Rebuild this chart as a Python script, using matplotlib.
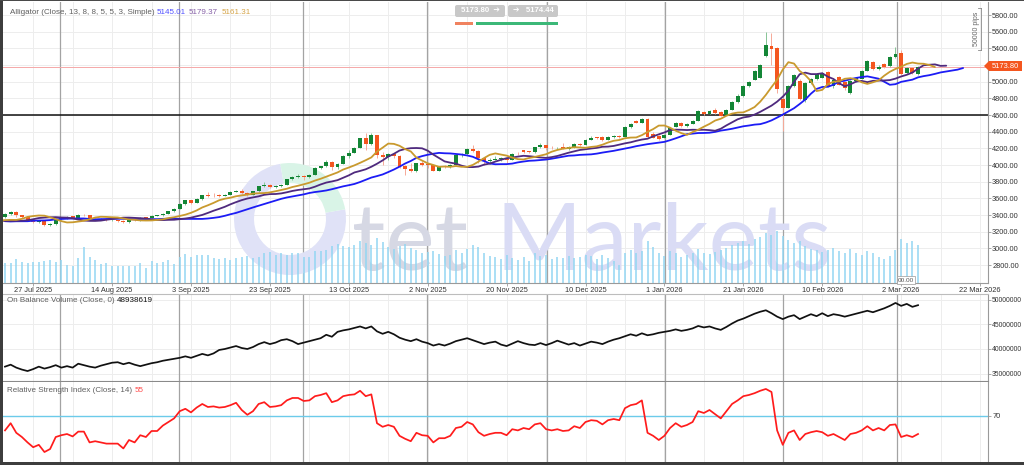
import numpy as np
import pandas as pd
import matplotlib
matplotlib.use("Agg")
import matplotlib.pyplot as plt
from matplotlib.patches import Wedge, FancyBboxPatch, Rectangle, Polygon
from matplotlib.lines import Line2D
import matplotlib.transforms as mtransforms

# ---------------- data ----------------
open_ = [
    3374, 3410, 3440, 3398, 3372, 3338, 3316, 3328, 3280, 3292,
    3350, 3362, 3385, 3368, 3400, 3396, 3352, 3348, 3356, 3336,
    3338, 3332, 3315, 3348, 3338, 3372, 3365, 3393, 3397, 3417,
    3447, 3477, 3535, 3578, 3546, 3590, 3636, 3642, 3638, 3634,
    3643, 3679, 3690, 3660, 3644, 3685, 3746, 3764, 3736, 3749,
    3760, 3833, 3858, 3866, 3856, 3886, 3961, 3985, 4040, 3976,
    4018, 4110, 4143, 4209, 4326, 4251, 4356, 4125, 4095, 4126,
    4113, 3982, 3951, 3930, 4025, 4010, 4000, 3932, 3980, 3977,
    4000, 4115, 4128, 4195, 4172, 4085, 4046, 4066, 4077, 4077,
    4065, 4135, 4175, 4160, 4155, 4218, 4240, 4206, 4200, 4210,
    4198, 4210, 4258, 4246, 4306, 4330, 4340, 4306, 4340, 4345,
    4340, 4462, 4533, 4510, 4557, 4370, 4354, 4330, 4366, 4462,
    4510, 4466, 4498, 4533, 4641, 4617, 4665, 4641, 4600, 4665,
    4760, 4830, 4952, 5023, 5047, 5310, 5430, 5406, 4796, 4689,
    4952, 5011, 4784, 4987, 5035, 5047, 5110, 4950, 5060, 4990,
    4868, 5011, 5035, 5131, 5238, 5155, 5214, 5190, 5298, 5346,
    5107, 5167, 5095,
]
close = [
    3410, 3440, 3398, 3372, 3338, 3316, 3326, 3280, 3292, 3350,
    3362, 3368, 3368, 3400, 3396, 3352, 3348, 3356, 3336, 3338,
    3332, 3315, 3348, 3340, 3370, 3365, 3393, 3397, 3417, 3447,
    3477, 3535, 3578, 3546, 3590, 3636, 3627, 3638, 3634, 3643,
    3679, 3690, 3660, 3644, 3685, 3746, 3764, 3736, 3749, 3760,
    3833, 3858, 3866, 3856, 3886, 3961, 3985, 4040, 3976, 4018,
    4110, 4143, 4209, 4326, 4251, 4356, 4125, 4095, 4126, 4113,
    3982, 3951, 3930, 4025, 4003, 4000, 3932, 3980, 3977, 4000,
    4115, 4128, 4195, 4172, 4085, 4046, 4066, 4077, 4077, 4065,
    4135, 4130, 4160, 4155, 4218, 4240, 4206, 4200, 4207, 4197,
    4222, 4258, 4235, 4306, 4330, 4324, 4306, 4340, 4345, 4338,
    4462, 4498, 4510, 4557, 4342, 4330, 4318, 4366, 4450, 4510,
    4474, 4498, 4533, 4653, 4617, 4653, 4629, 4593, 4665, 4760,
    4830, 4952, 5000, 5131, 5203, 5441, 5394, 4916, 4689, 4952,
    5083, 4796, 4987, 5035, 5095, 5107, 4950, 5020, 4965, 4920,
    5011, 5047, 5131, 5250, 5155, 5180, 5180, 5298, 5334, 5095,
    5167, 5107, 5173.8,
]
high = [
    3420, 3452, 3445, 3405, 3378, 3345, 3334, 3334, 3300, 3362,
    3372, 3390, 3392, 3408, 3410, 3404, 3360, 3370, 3362, 3350,
    3345, 3338, 3352, 3355, 3378, 3378, 3400, 3405, 3422, 3452,
    3488, 3540, 3580, 3580, 3600, 3646, 3674, 3660, 3650, 3656,
    3685, 3703, 3708, 3675, 3690, 3750, 3791, 3770, 3760, 3775,
    3838, 3870, 3895, 3875, 3896, 3976, 3990, 4059, 4045, 4022,
    4115, 4179, 4218, 4330, 4380, 4381, 4360, 4161, 4145, 4140,
    4120, 4000, 4030, 4030, 4046, 4030, 4005, 3990, 4000, 4010,
    4118, 4150, 4210, 4245, 4180, 4095, 4080, 4110, 4095, 4090,
    4145, 4155, 4185, 4165, 4220, 4265, 4245, 4225, 4220, 4260,
    4230, 4270, 4270, 4312, 4345, 4340, 4350, 4350, 4360, 4360,
    4470, 4505, 4545, 4560, 4565, 4400, 4365, 4375, 4455, 4515,
    4520, 4505, 4545, 4660, 4650, 4665, 4680, 4645, 4670, 4770,
    4850, 4960, 5010, 5140, 5215, 5600, 5590, 5420, 4810, 4965,
    5095, 5030, 5000, 5050, 5105, 5115, 5130, 5030, 5070, 4995,
    5020, 5060, 5140, 5265, 5245, 5195, 5225, 5305, 5420, 5380,
    5180, 5175, 5185,
]
low = [
    3360, 3400, 3382, 3360, 3325, 3300, 3306, 3268, 3270, 3285,
    3346, 3355, 3360, 3360, 3388, 3342, 3340, 3342, 3330, 3330,
    3322, 3308, 3310, 3334, 3332, 3355, 3360, 3388, 3390, 3410,
    3440, 3470, 3525, 3530, 3540, 3580, 3620, 3620, 3615, 3626,
    3636, 3672, 3650, 3630, 3638, 3680, 3740, 3720, 3725, 3740,
    3755, 3820, 3850, 3820, 3850, 3880, 3950, 3980, 3945, 3950,
    4010, 4090, 4140, 4200, 4185, 4240, 4082, 4004, 4060, 4090,
    3970, 3886, 3920, 3915, 3990, 3970, 3930, 3930, 3960, 3965,
    3995, 4100, 4120, 4160, 4030, 4000, 4010, 4055, 4050, 4030,
    4060, 4115, 4140, 4140, 4150, 4210, 4185, 4190, 4190, 4190,
    4180, 4205, 4225, 4240, 4295, 4310, 4290, 4300, 4330, 4320,
    4335, 4450, 4500, 4505, 4330, 4320, 4300, 4320, 4360, 4455,
    4460, 4455, 4490, 4530, 4600, 4610, 4615, 4585, 4595, 4660,
    4750, 4820, 4940, 5015, 5040, 5300, 5200, 4870, 4414, 4680,
    4940, 4780, 4760, 4975, 5020, 5040, 4940, 4930, 4955, 4900,
    4855, 5000, 5030, 5125, 5140, 5145, 5170, 5180, 5290, 5080,
    5095, 5095, 5085,
]
# closes of the 20 sessions before the visible window (only to start the Alligator averages)
earlier_close = [3368, 3323, 3332, 3328, 3274, 3303, 3338, 3357, 3326, 3336,
                 3336, 3301, 3313, 3325, 3355, 3343, 3324, 3347, 3339, 3350]
volume = [
    20, 20, 24, 21, 20, 21, 21, 22, 23, 21,
    23, 18, 17, 25, 36, 26, 23, 19, 20, 17,
    17, 17, 17, 17, 20, 15, 22, 20, 21, 23,
    19, 26, 29, 26, 28, 28, 28, 25, 24, 25,
    23, 25, 26, 27, 25, 26, 30, 31, 28, 30,
    28, 30, 30, 26, 26, 32, 32, 33, 37, 39,
    37, 36, 38, 42, 40, 38, 45, 41, 36, 34,
    37, 39, 35, 33, 30, 31, 32, 29, 27, 28,
    33, 30, 34, 38, 36, 30, 27, 26, 24, 28,
    25, 23, 26, 22, 30, 27, 28, 24, 26, 25,
    27, 25, 26, 28, 27, 24, 28, 25, 22, 18,
    30, 33, 30, 32, 42, 36, 30, 27, 32, 30,
    26, 28, 30, 34, 30, 29, 31, 33, 35, 38,
    40, 42, 39, 44, 46, 50, 48, 52, 47, 43,
    40, 42, 37, 34, 33, 31, 33, 35, 32, 30,
    34, 30, 28, 32, 30, 26, 24, 27, 33, 44,
    40, 42, 38,
]
obv_m = [
    36.4, 36.8, 36.2, 35.8, 35.5, 35.9, 36.4, 36.0, 36.3, 36.7,
    36.2, 36.5, 36.2, 37.0, 36.7, 36.4, 36.2, 36.6, 36.9, 37.2,
    37.3, 36.9, 37.2, 36.8, 36.5, 36.8, 37.1, 37.3, 37.6, 37.8,
    38.0, 38.2, 38.5, 38.2, 38.6, 39.0, 38.7, 39.1, 39.8, 40.0,
    40.3, 40.6, 40.2, 40.0, 40.4, 41.0, 41.4, 41.0, 41.3, 41.8,
    42.0, 41.6, 41.0, 41.3, 41.6, 41.9, 42.2, 42.9, 42.5, 43.5,
    43.8, 44.0, 44.3, 44.6, 44.2, 44.6, 43.6, 43.1, 43.5, 43.0,
    42.3, 41.9, 41.6, 42.0, 41.5, 41.2, 40.7, 41.0, 40.7, 41.1,
    41.6, 41.9, 42.2, 41.8, 41.4, 41.0, 41.3, 41.5, 40.9, 40.6,
    41.1, 41.6, 41.2, 40.9, 40.8, 41.2, 40.8, 41.2, 41.7, 41.3,
    40.9, 41.2, 40.7, 41.1, 41.5, 41.3, 41.0, 41.5, 41.9, 42.2,
    42.6, 43.0, 42.7, 43.2, 42.8, 43.0, 43.3, 43.5, 43.7, 44.0,
    43.7, 43.9, 44.2, 44.7, 44.4, 44.6, 44.2, 43.9, 44.5, 45.2,
    45.8, 46.2, 46.7, 47.2, 47.6, 47.9, 47.3, 46.6, 46.1, 46.6,
    46.9, 46.1, 46.6, 47.1, 46.7, 47.3, 46.7, 47.1, 46.9, 46.6,
    46.9, 47.2, 47.5, 47.8, 47.5, 47.9, 48.3, 48.8, 49.4, 48.8,
    49.2, 48.6, 48.94,
]
rsi = [
    58, 64, 56, 52.5, 48, 44, 46, 40, 42.5, 52.5,
    54, 55, 53, 57, 57, 48, 49, 48, 47, 47,
    47, 43, 50, 48, 54, 52.5, 57.5, 57.5, 62, 65,
    68, 74, 76, 73, 77, 80, 77.5, 78, 77, 77.5,
    79, 81, 75, 71, 74, 80, 81.5, 77.5, 78, 79,
    83, 85, 85, 82.5, 83, 86.5, 87.5, 89, 81.5, 83,
    86.5, 87.5, 88, 91, 86.5, 88, 64, 61, 62.5, 61,
    53.5, 51, 49, 56, 54, 53.5, 48, 51.5, 51.5, 53.5,
    60, 61, 65, 63, 56.5, 53.5, 55, 56, 56, 54,
    59, 58, 60, 59, 63, 64, 59, 58, 59, 57.5,
    58, 61.5, 60, 65, 66.5, 66, 63, 66.5, 67.5, 66.5,
    76.5, 79, 80, 83, 56, 53.5, 50, 53.5, 60, 64,
    61, 62.5, 65, 74, 72.5, 75, 71.5, 68, 74, 80,
    83, 86.5, 87.5, 89, 91, 92.5, 90, 58, 46, 56,
    58, 50, 55, 56.5, 57.5, 56.5, 53.5, 55, 52.5, 50,
    55, 56, 58, 61.5, 58, 60, 58, 62.5, 63, 52.5,
    54, 52.5, 55,
]
date_labels = ['27 Jul 2025', '14 Aug 2025', '3 Sep 2025', '23 Sep 2025', '13 Oct 2025',
               '2 Nov 2025', '20 Nov 2025', '10 Dec 2025', '1 Jan 2026', '21 Jan 2026',
               '10 Feb 2026', '2 Mar 2026', '22 Mar 2026']
date_tick_bars = [5 + 14 * k for k in range(13)]
month_start_bars = [9.8, 30.9, 52.9, 74.9, 96.2, 117.1, 138.0, 158.2]
price_ticks = list(range(2800, 5801, 200))
obv_ticks_m = [35, 40, 45, 50]
last_price = 5173.80
ask_price = 5174.44
hline_price = 4600
alligator_legend = ['5145.01', '5179.37', '5161.31']
obv_legend = '48938619'
rsi_legend = '55'

# ---------------- layout helpers ----------------
W, H = 1024, 465
FONT = ['Liberation Sans', 'DejaVu Sans']
plt.rcParams['font.family'] = FONT

fig = plt.figure(figsize=(W / 100, H / 100), dpi=100)
fig.patch.set_facecolor('white')


def rect(x0, y0, x1, y1):
    return [x0 / W, 1 - y1 / H, (x1 - x0) / W, (y1 - y0) / H]


def fx(x):
    return x / W


def fy(y):
    return 1 - y / H


def inch(x, y):
    return (x / 100, (H - y) / 100)


BAR = 5.636
X0 = 5
xlo = (3 - X0) / BAR
xhi = (988 - X0) / BAR

ax = fig.add_axes(rect(3, 2, 988, 283))
ax_obv = fig.add_axes(rect(3, 294, 988, 381))
ax_rsi = fig.add_axes(rect(3, 382, 988, 462))

n = len(close)
idx = np.arange(n)
o = np.array(open_, float)
c = np.array(close, float)
hi = np.array(high, float)
lo = np.array(low, float)

GRID = '#ededed'
SEP = '#a3a3a3'
AXC = '#9a9a9a'
LBL = '#333333'

for a in (ax, ax_obv, ax_rsi):
    a.set_facecolor('white')
    for k in range(0, 26):
        a.axvline(5 + 7 * k, color=GRID, lw=0.7, zorder=0.3)
    for m in month_start_bars:
        a.axvline(m, color=SEP, lw=0.9, zorder=0.4)
    a.set_xlim(xlo, xhi)
    for s in ('left', 'top'):
        a.spines[s].set_visible(False)
    a.spines['right'].set_color(AXC)
    a.spines['bottom'].set_color(AXC)
    a.spines['right'].set_linewidth(0.8)
    a.spines['bottom'].set_linewidth(0.8)
    a.yaxis.tick_right()
    a.tick_params(axis='y', labelsize=5.3, labelcolor=LBL, length=2, width=0.6,
                  color=AXC, pad=1)

# ---- watermark ----
tr_in = fig.dpi_scale_trans
ring_c = inch(290, 219)
ax.add_patch(Wedge(ring_c, 0.56, 100, 370, width=0.2, transform=tr_in,
                   facecolor='#e0e2f7', edgecolor='none', zorder=0.6))
ax.add_patch(Wedge(ring_c, 0.56, 10, 100, width=0.2, transform=tr_in,
                   facecolor='#d9f4e7', edgecolor='none', zorder=0.6))
ax.text(*inch(352, 270), 'tet', transform=tr_in, fontsize=67, family='Lato',
        color='#d6d8e4', ha='left', va='baseline', zorder=0.6)
ax.text(*inch(496, 270), 'Markets', transform=tr_in, fontsize=67, family='Lato',
        color='#dadcf5', ha='left', va='baseline', zorder=0.6)

# ---- main panel ----
for p in price_ticks:
    ax.axhline(p, color=GRID, lw=0.7, zorder=0.3)
ax.axhline(hline_price, color='#111111', lw=1.1, zorder=2)
ax.axhline(last_price, color='#f5a8a8', lw=0.7, zorder=2)

# volume (bottom of the price panel, own scale)
blend = mtransforms.blended_transform_factory(ax.transData, ax.transAxes)
vol = np.array(volume, float)
ax.vlines(idx, 0, vol / 281.0, transform=blend, colors='#93d6f2', lw=1.1, zorder=1)

up = c >= o
body_col = np.where(up, '#138636', '#f4561f')
wick_col = np.where(up, '#86c495', '#f6aa98')
ax.vlines(idx, lo, hi, colors=wick_col, lw=0.7, zorder=2.5)
ax.bar(idx, np.maximum(np.abs(c - o), 8), bottom=np.minimum(o, c), width=0.7,
       color=body_col, linewidth=0, zorder=3)

# Alligator (simple moving averages, shifted forward)
full = pd.Series(list(earlier_close) + list(close), dtype=float)
off = len(earlier_close)
full_idx = np.arange(len(full)) - off
for period, shift, col in [(13, 8, '#1c1cf5'), (8, 5, '#4f2a7e'), (5, 3, '#c99a2e')]:
    sma = full.rolling(period).mean().values
    ax.plot(full_idx + shift, sma, color=col, lw=1.3, zorder=4, solid_capstyle='round')

ax.set_ylim(2584, 5956)
ax.set_yticks(price_ticks)
ax.set_yticklabels([f'{p:.2f}' for p in price_ticks])
ax.set_xticks(date_tick_bars)
ax.set_xticklabels(date_labels)
ax.tick_params(axis='x', labelsize=5.3, labelcolor=LBL, length=2, width=0.6,
               color=AXC, pad=1)
ax.set_xlim(xlo, xhi)

# ---- OBV panel ----
ax_obv.plot(idx, obv_m, color='#111111', lw=1.25, zorder=3)
for t in obv_ticks_m:
    ax_obv.axhline(t, color=GRID, lw=0.7, zorder=0.3)
ax_obv.set_ylim(33.47, 51.22)
ax_obv.set_yticks(obv_ticks_m)
ax_obv.set_yticklabels([f'{int(t * 1e6)}' for t in obv_ticks_m])
ax_obv.tick_params(axis='y', labelsize=4.9, pad=0.8)
ax_obv.set_xticks([])
ax_obv.spines['top'].set_visible(True)
ax_obv.spines['top'].set_color('#bdbdbd')
ax_obv.spines['bottom'].set_color('#8a8a8a')
ax_obv.set_xlim(xlo, xhi)

# ---- RSI panel ----
ax_rsi.axhline(70, color='#6ccbea', lw=1.0, zorder=2)
ax_rsi.plot(idx, rsi, color='#ff1c1c', lw=1.25, zorder=3)
ax_rsi.set_ylim(31.7, 98.3)
ax_rsi.set_yticks([70])
ax_rsi.set_yticklabels(['70'])
ax_rsi.set_xticks([])
ax_rsi.spines['bottom'].set_visible(False)
ax_rsi.set_xlim(xlo, xhi)

# ---------------- legends / labels ----------------
LG = 5.8
fig.text(fx(10), fy(13), 'Alligator (Close, 13, 8, 8, 5, 5, 3, Simple)', fontsize=LG,
         color='#5f5f5f', va='center', ha='left')
for xpos, txt, col in zip([157, 189, 222], alligator_legend, ['#5050ff', '#8560a6', '#d5a447']):
    fig.text(fx(xpos), fy(13), txt, fontsize=LG, color=col, va='center', ha='left')
fig.text(fx(7), fy(300), 'On Balance Volume (Close, 0)', fontsize=LG, color='#5f5f5f',
         va='center', ha='left')
fig.text(fx(117), fy(300), obv_legend, fontsize=LG, color='#111111', va='center', ha='left')
fig.text(fx(7), fy(390), 'Relative Strength Index (Close, 14)', fontsize=LG, color='#5f5f5f',
         va='center', ha='left')
fig.text(fx(135), fy(390), rsi_legend, fontsize=LG, color='#ff4b4b', va='center', ha='left')

# bid / ask boxes at the top
for (x0, x1, txt) in [(455, 505, f'{last_price:.2f}  \u2794'), (508, 558, f'\u2794   {ask_price:.2f}')]:
    fig.add_artist(FancyBboxPatch(inch(x0, 17), (x1 - x0) / 100, 12 / 100,
                                  boxstyle='round,pad=0,rounding_size=0.02',
                                  fc='#c8c8c8', ec='none', transform=tr_in, zorder=6))
    fig.text(fx((x0 + x1) / 2), fy(11), txt, fontsize=5.6, color='white', weight='bold',
             ha='center', va='center', zorder=7)
fig.add_artist(Rectangle(inch(455, 25), 18 / 100, 3 / 100, transform=tr_in,
                         fc='#f0825f', ec='none', zorder=6))
fig.add_artist(Rectangle(inch(476, 25), 82 / 100, 3 / 100, transform=tr_in,
                         fc='#3cb878', ec='none', zorder=6))

# current price tag
tag = Polygon([inch(984, 66), inch(989, 61), inch(1022, 61), inch(1022, 71), inch(989, 71)],
              closed=True, transform=tr_in, fc='#f4561f', ec='none', zorder=6)
fig.add_artist(tag)
fig.text(fx(1005), fy(66), f'{last_price:.2f}', fontsize=5.4, color='white',
         ha='center', va='center', zorder=7)

# measurement bracket
fig.text(fx(976), fy(29), '50000 pips', rotation=90, fontsize=5.0, color='#666666',
         ha='center', va='center', zorder=7)
for seg in [((981, 981), (8, 50)), ((978, 981), (8, 8)), ((978, 981), (50, 50))]:
    fig.add_artist(Line2D([fx(v) for v in seg[0]], [fy(v) for v in seg[1]],
                          transform=fig.transFigure, color='#888888', lw=0.6, zorder=6))

# small countdown box
fig.text(fx(906), fy(280), '00.00', fontsize=4.6, color='#555555', ha='center', va='center',
         zorder=7, bbox=dict(fc='white', ec='#9a9a9a', lw=0.5, pad=0.8))

# window frame edges
fig.add_artist(Rectangle((0, 0), 3 / W, 1, transform=fig.transFigure, fc='#3d3d3d', ec='none', zorder=8))
fig.add_artist(Rectangle((0, 0), 1, 3 / H, transform=fig.transFigure, fc='#3d3d3d', ec='none', zorder=8))
fig.add_artist(Rectangle((0, 1 - 1.5 / H), 1, 1.5 / H, transform=fig.transFigure, fc='#4a4a4a', ec='none', zorder=8))

fig.savefig('out.png', dpi=100, facecolor='white')
